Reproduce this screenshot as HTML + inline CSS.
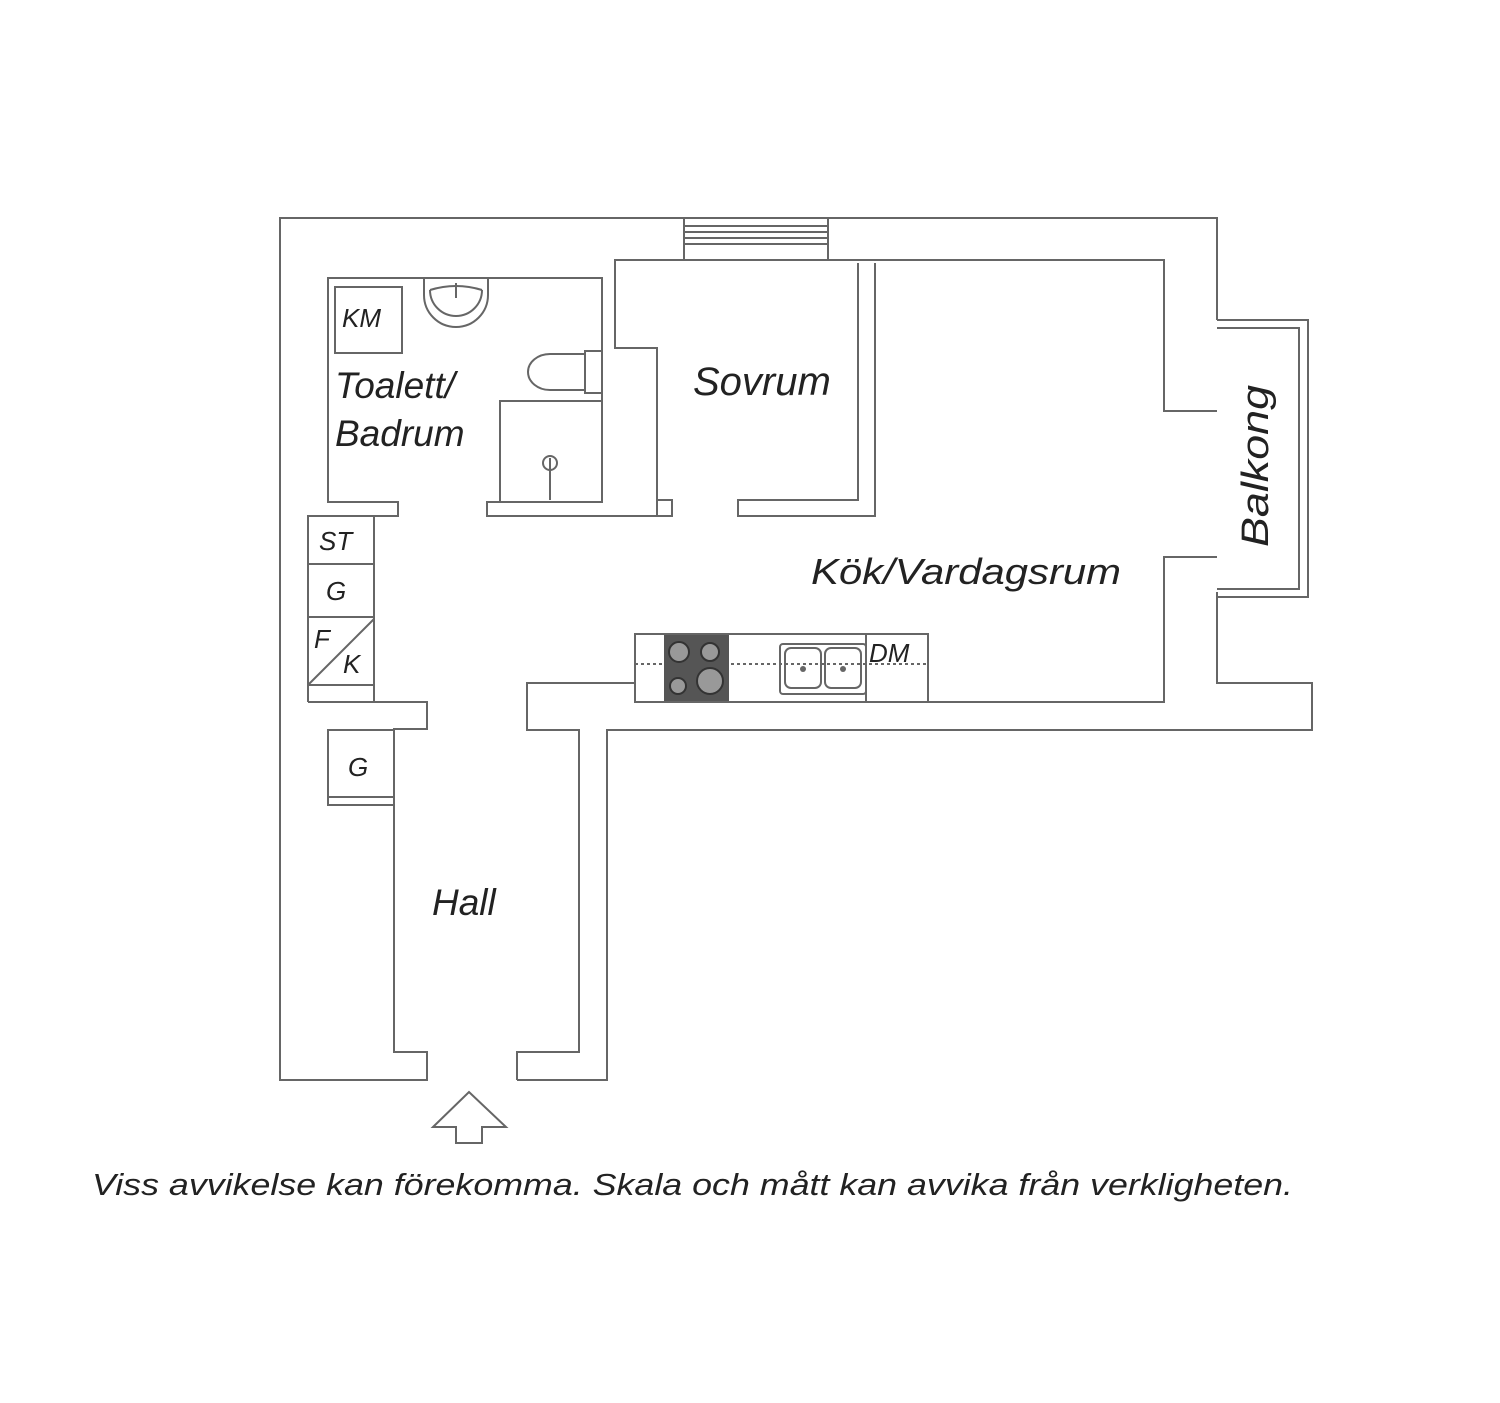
<!DOCTYPE html>
<html><head><meta charset="utf-8"><style>
html,body{margin:0;padding:0;background:#fff;}
svg{display:block;}
text{font-family:"Liberation Sans",sans-serif;font-style:italic;fill:#222;}
</style></head><body>
<svg width="1500" height="1403" viewBox="0 0 1500 1403" xmlns="http://www.w3.org/2000/svg">
<g fill="none" stroke="#666" stroke-width="2">
<polyline points="1217,320 1217,218 280,218 280,1080 427,1080 427,1052 394,1052 394,729 427,729 427,702 308,702"/>
<polyline points="517,1080 607,1080 607,730 1312,730 1312,683 1217,683 1217,592"/>
<polyline points="517,1080 517,1052 579,1052 579,730 527,730 527,683 635,683"/>
<line x1="684" y1="218" x2="684" y2="260"/><line x1="828" y1="218" x2="828" y2="260"/>
<line x1="684" y1="226" x2="828" y2="226"/><line x1="684" y1="232" x2="828" y2="232"/>
<line x1="684" y1="238" x2="828" y2="238"/><line x1="684" y1="244" x2="828" y2="244"/>
<polyline points="635,702 1164,702 1164,557 1217,557"/>
<polyline points="1217,411 1164,411 1164,260 858,260"/>
<polyline points="875,263 875,516 738,516 738,500 858,500 858,263"/>
<polyline points="858,260 615,260 615,348 657,348 657,500 672,500 672,516 487,516 487,502 602,502 602,278 328,278 328,502 398,502 398,516 308,516 308,702"/>
<line x1="657" y1="500" x2="657" y2="516"/>
<polyline points="308,516 374,516 374,702"/>
<line x1="308" y1="564" x2="374" y2="564"/><line x1="308" y1="617" x2="374" y2="617"/>
<line x1="308" y1="685" x2="374" y2="685"/><line x1="308" y1="685" x2="374" y2="619"/>
<polyline points="394,730 328,730 328,805 394,805"/><line x1="328" y1="797" x2="394" y2="797"/>
<rect x="335" y="287" width="67" height="66"/>
<path d="M424,278 L424,295 A32,32 0 0 0 488,295 L488,278"/>
<path d="M430,290 A26,26 0 0 0 482,290"/><path d="M430,290 Q456,282 482,290"/>
<line x1="456" y1="283" x2="456" y2="298"/>
<path d="M585,354 L550,354 A22,18 0 0 0 550,390 L585,390 Z"/><rect x="585" y="351" width="17" height="42"/>
<polyline points="602,401 500,401 500,502"/>
<circle cx="550" cy="463" r="7"/><line x1="550" y1="458" x2="550" y2="500"/>
<polyline points="1217,320 1308,320 1308,597 1217,597"/>
<polyline points="1217,328 1299,328 1299,589 1217,589"/>
<rect x="635" y="634" width="293" height="68"/>
<line x1="866" y1="634" x2="866" y2="702"/>
<rect x="780" y="644" width="86" height="50" rx="3"/>
<rect x="785" y="648" width="36" height="40" rx="6"/><rect x="825" y="648" width="36" height="40" rx="6"/>
<line x1="635" y1="664" x2="928" y2="664" stroke-dasharray="3,3"/>
<polygon points="433,1127 469,1092 506,1127 482,1127 482,1143 456,1143 456,1127"/>
</g>
<rect x="664" y="635" width="65" height="66" fill="#555"/>
<g fill="#999" stroke="#333" stroke-width="2">
<circle cx="679" cy="652" r="10"/><circle cx="710" cy="652" r="9"/>
<circle cx="678" cy="686" r="8"/><circle cx="710" cy="681" r="13"/>
</g>
<circle cx="803" cy="669" r="3" fill="#666"/><circle cx="843" cy="669" r="3" fill="#666"/>
<g font-size="26">
<text x="342" y="327">KM</text>
<text x="319" y="550">ST</text>
<text x="326" y="600">G</text>
<text x="314" y="648">F</text>
<text x="343" y="673">K</text>
<text x="348" y="776">G</text>
<text x="869" y="662">DM</text>
</g>
<text x="335" y="398" font-size="37">Toalett/</text>
<text x="335" y="446" font-size="37">Badrum</text>
<text x="693" y="395" font-size="40">Sovrum</text>
<text x="811" y="584" font-size="36" textLength="310" lengthAdjust="spacingAndGlyphs">Kök/Vardagsrum</text>
<text x="432" y="915" font-size="37">Hall</text>
<text transform="translate(1268,547) rotate(-90)" font-size="38" textLength="162" lengthAdjust="spacingAndGlyphs">Balkong</text>
<text x="92" y="1195" font-size="31" textLength="1201" lengthAdjust="spacingAndGlyphs">Viss avvikelse kan förekomma. Skala och mått kan avvika från verkligheten.</text>
</svg>
</body></html>
